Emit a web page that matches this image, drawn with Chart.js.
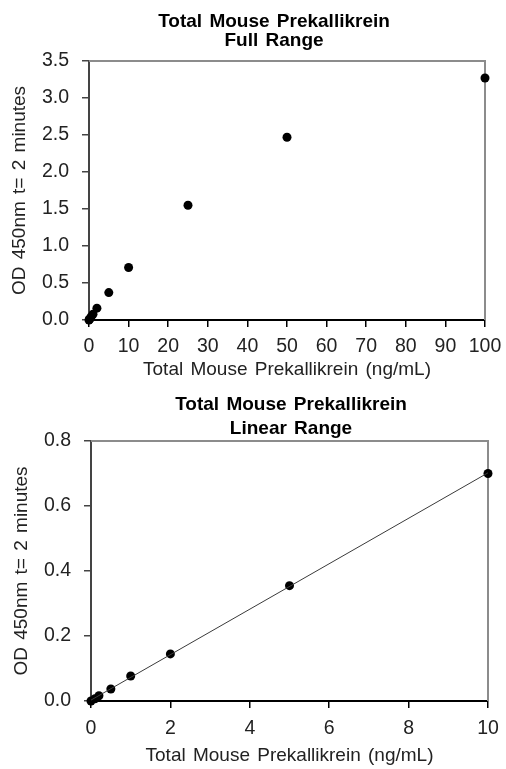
<!DOCTYPE html>
<html>
<head>
<meta charset="utf-8">
<script src="https://cdn.jsdelivr.net/npm/chart.js@4/dist/chart.umd.min.js"></script>
<style>
  body { margin: 0; background: #fff; }
  .box { position: absolute; left: 0; width: 506px; }
</style>
</head>
<body>
<div class="box" style="top:0;height:385px"><canvas id="fullChart" width="506" height="385"></canvas></div>
<div class="box" style="top:385px;height:384px"><canvas id="linChart" width="506" height="384"></canvas></div>
<script>
// standard curve, full range
var fullConc = [0, 0.1, 0.2, 0.5, 1, 2, 5, 10, 25, 50, 100];
var fullOD = [0, 0.008, 0.016, 0.04, 0.078, 0.16, 0.37, 0.71, 1.55, 2.47, 3.27];

// linear part of the curve
var linConc = [0, 0.1, 0.2, 0.5, 1, 2, 5, 10];
var linOD = [0, 0.007, 0.016, 0.037, 0.077, 0.145, 0.355, 0.70];

var fullXTicks = [0, 100, 10];
var fullYTicks = [0, 3.5, 0.5];
var linXTicks = [0, 10, 2];
var linYTicks = [0, 0.8, 0.2];

var FONT = 'Liberation Sans, Arial, sans-serif';
var xTitle = 'Total Mouse Prekallikrein (ng/mL)';
var yTitle = 'OD 450nm t= 2 minutes';

function toPoints(xs, ys) {
    return xs.map(function (x, i) { return {x: x, y: ys[i]}; });
}

// least squares fit for the trend line
function fitLine(xs, ys) {
    var n = xs.length, sx = 0, sy = 0, sxx = 0, sxy = 0;
    for (var i = 0; i < n; i++) {
        sx += xs[i]; sy += ys[i]; sxx += xs[i] * xs[i]; sxy += xs[i] * ys[i];
    }
    var m = (n * sxy - sx * sy) / (n * sxx - sx * sx);
    var b = (sy - m * sx) / n;
    var x0 = xs[0], x1 = xs[n - 1];
    return [{x: x0, y: m * x0 + b}, {x: x1, y: m * x1 + b}];
}

// gray frame on top and right, slightly wider word gaps like the original
var frame = {
    id: 'frame',
    beforeUpdate: function (chart) { chart.ctx.wordSpacing = '2px'; },
    beforeDraw: function (chart) { chart.ctx.wordSpacing = '2px'; },
    afterLayout: function (chart, args, opts) {
        // move the title block so it is centred where the original has it
        var t = chart.titleBlock;
        if (t && opts.titleCenter) {
            var half = (t.right - t.left) / 2;
            t.left = opts.titleCenter - half;
            t.right = opts.titleCenter + half;
        }
    },
    beforeDatasetsDraw: function (chart) {
        var a = chart.chartArea, c = chart.ctx;
        c.save();
        c.strokeStyle = '#8c8c8c';
        c.lineWidth = 2;
        c.beginPath();
        c.moveTo(a.left, a.top);
        c.lineTo(a.right, a.top);
        c.lineTo(a.right, a.bottom);
        c.stroke();
        c.restore();
    }
};

function makeChart(id, opt) {
    var datasets = [{
        data: toPoints(opt.xs, opt.ys),
        showLine: false,
        pointRadius: 4.5,
        pointBackgroundColor: '#000',
        pointBorderColor: '#000',
        pointBorderWidth: 0,
        clip: false
    }];
    if (opt.fit) {
        datasets.unshift({
            data: fitLine(opt.xs, opt.ys),
            showLine: true,
            borderColor: '#3a3a3a',
            borderWidth: 1,
            pointRadius: 0,
            clip: false
        });
    }
    return new Chart(document.getElementById(id), {
        type: 'scatter',
        data: {datasets: datasets},
        plugins: [frame],
        options: {
            responsive: false,
            animation: false,
            layout: {padding: {left: 0, right: opt.right, top: 0, bottom: 0}},
            plugins: {
                legend: {display: false},
                tooltip: {enabled: false},
                frame: {titleCenter: opt.titleCenter},
                title: {
                    display: true,
                    text: ['Total Mouse Prekallikrein', opt.sub],
                    color: '#000',
                    font: {family: FONT, size: 19, weight: 'bold', lineHeight: opt.titleLH},
                    padding: opt.titlePad
                }
            },
            scales: {
                x: {
                    type: 'linear',
                    min: opt.xTicks[0], max: opt.xTicks[1],
                    ticks: {stepSize: opt.xTicks[2], color: '#222', padding: opt.xTickPad, maxRotation: 0,
                        font: {family: FONT, size: 19.5}},
                    grid: {drawOnChartArea: false, tickLength: 7, color: '#000', lineWidth: 1.5},
                    border: {color: '#000', width: 2},
                    title: {display: true, text: xTitle, color: '#222',
                        font: {family: FONT, size: 19}, padding: {top: 0, bottom: opt.xTitlePad}},
                    afterFit: function (s) {
                        s.height = opt.xHeight;
                        s.paddingLeft = 0;
                        s.paddingRight = 0;
                    }
                },
                y: {
                    min: opt.yTicks[0], max: opt.yTicks[1],
                    ticks: {stepSize: opt.yTicks[2], color: '#222', padding: 13,
                        font: {family: FONT, size: 19.5},
                        callback: function (v) { return v.toFixed(1); }},
                    grid: {drawOnChartArea: false, tickLength: 7, color: '#444', lineWidth: 1.5},
                    border: {color: '#444', width: 2},
                    title: {display: true, text: yTitle, color: '#222',
                        font: {family: FONT, size: 19}, padding: {top: opt.yTitlePad, bottom: 0}},
                    afterFit: function (s) {
                        s.width = opt.yWidth;
                        s.paddingTop = 0;
                        s.paddingBottom = 0;
                    }
                }
            }
        }
    });
}

makeChart('fullChart', {
    xs: fullConc, ys: fullOD, fit: false, sub: 'Full Range',
    xTicks: fullXTicks, yTicks: fullYTicks,
    right: 21, yWidth: 89, xHeight: 65, xTickPad: 8, xTitlePad: 4, yTitlePad: 8,
    titleLH: '19.5px', titlePad: {top: 12, bottom: 10}, titleCenter: 274
});

makeChart('linChart', {
    xs: linConc, ys: linOD, fit: true, sub: 'Linear Range',
    xTicks: linXTicks, yTicks: linYTicks,
    right: 18, yWidth: 91, xHeight: 68, xTickPad: 9, xTitlePad: 2, yTitlePad: 10,
    titleLH: '24px', titlePad: {top: 8, bottom: 0}, titleCenter: 291
});
</script>
</body>
</html>
